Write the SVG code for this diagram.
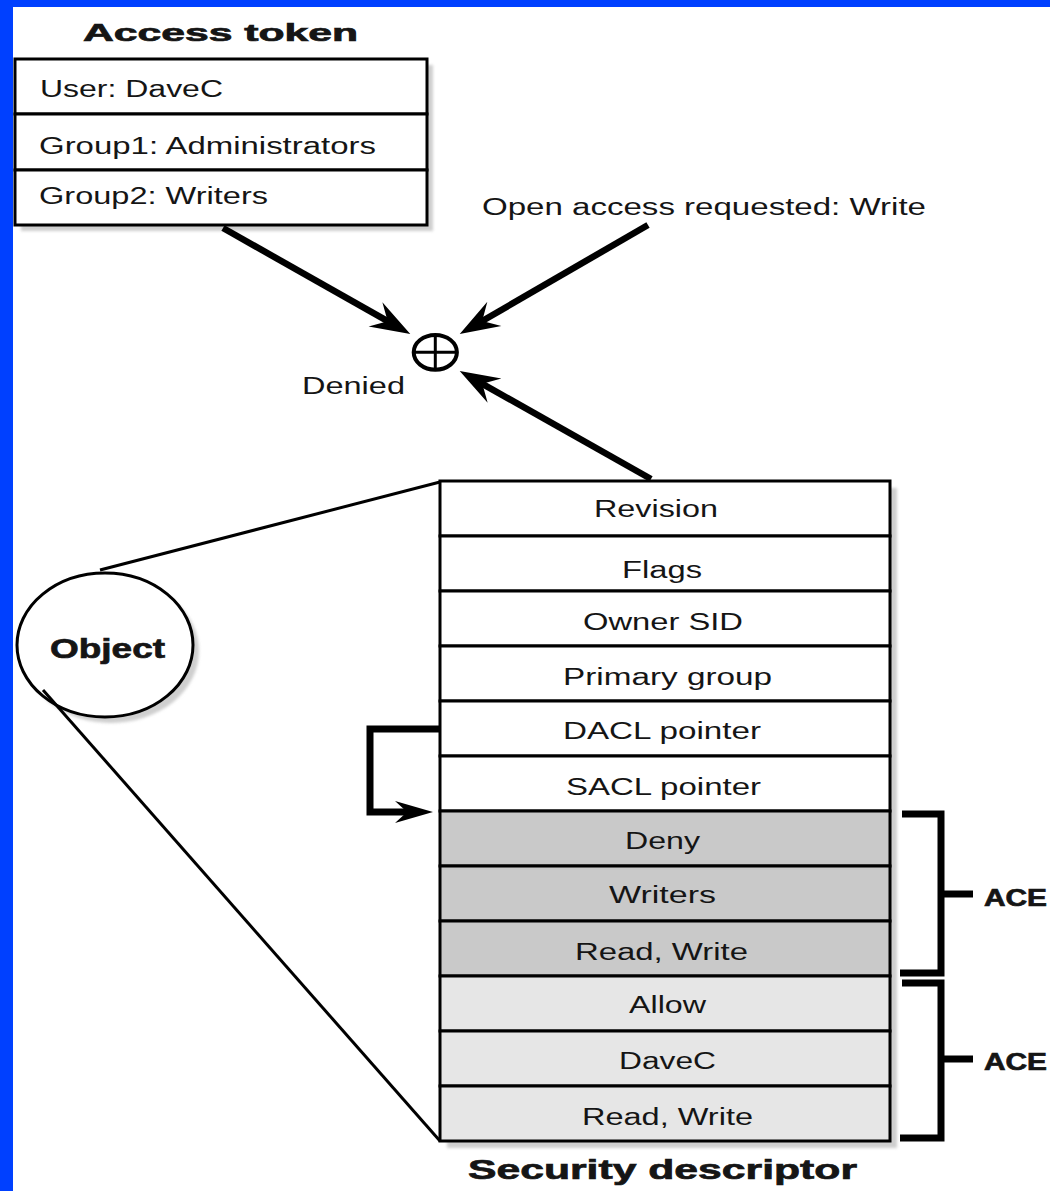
<svg xmlns="http://www.w3.org/2000/svg" width="1050" height="1191" viewBox="0 0 1050 1191">
  <style>
    .txt { font-family: "Liberation Sans", Arial, sans-serif; font-size: 23px; fill: #151515; }
    .head { font-family: "Liberation Sans", Arial, sans-serif; font-weight: 700; fill: #151515; stroke: #151515; stroke-width: 0.7; }
    .cell { stroke: #000; stroke-width: 3; }
    .white { fill: #ffffff; }
    .dark { fill: #c9c9c9; }
    .light { fill: #e6e6e6; }
    .shadow { fill: #cfcfcf; filter: url(#soft); }
    .thin { fill: none; stroke: #000; stroke-width: 3; }
    .thick { fill: none; stroke: #000; stroke-width: 6.5; }
    .bracket { fill: none; stroke: #000; stroke-width: 7; stroke-linejoin: miter; }
  </style>
  <defs>
    <filter id="soft" x="-10%" y="-10%" width="120%" height="120%">
      <feGaussianBlur stdDeviation="1.5"/>
    </filter>
    <marker id="barb" markerUnits="userSpaceOnUse" viewBox="-42 -17 44 34" markerWidth="44" markerHeight="34" refX="-24" refY="0" orient="auto">
      <path d="M0,0 L-40,-14 L-26,0 L-40,14 Z" fill="#000"/>
    </marker>
    <marker id="barbSmall" markerUnits="userSpaceOnUse" viewBox="-40 -14 42 28" markerWidth="42" markerHeight="28" refX="-24" refY="0" orient="auto">
      <path d="M0,0 L-38,-11 L-26,0 L-38,11 Z" fill="#000"/>
    </marker>
  </defs>

  <!-- page -->
  <rect x="0" y="0" width="1050" height="1191" fill="#ffffff"/>
  <rect x="0" y="0" width="1050" height="7" fill="#0040ff"/>
  <rect x="0" y="0" width="13" height="1191" fill="#0040ff"/>

  <!-- access token -->
  <g id="access-token">
    <text class="head" x="83" y="41" font-size="24" textLength="275" lengthAdjust="spacingAndGlyphs">Access token</text>
    <rect class="shadow" x="21" y="65" width="412" height="166"/>
    <rect class="cell white" x="15" y="59" width="412" height="55"/>
    <rect class="cell white" x="15" y="114" width="412" height="56"/>
    <rect class="cell white" x="15" y="170" width="412" height="55"/>
    <text class="txt" x="40" y="97" textLength="183" lengthAdjust="spacingAndGlyphs">User: DaveC</text>
    <text class="txt" x="39" y="154" textLength="337" lengthAdjust="spacingAndGlyphs">Group1: Administrators</text>
    <text class="txt" x="39" y="204" textLength="229" lengthAdjust="spacingAndGlyphs">Group2: Writers</text>
  </g>

  <!-- access request label -->
  <g id="request">
    <text class="txt" x="482" y="215" textLength="444" lengthAdjust="spacingAndGlyphs">Open access requested: Write</text>
  </g>

  <!-- access check result -->
  <g id="check">
    <ellipse cx="435.3" cy="352.3" rx="21.6" ry="17.4" fill="#fff" stroke="#000" stroke-width="4"/>
    <line x1="435.3" y1="335" x2="435.3" y2="370" stroke="#000" stroke-width="3"/>
    <line x1="414" y1="352.3" x2="457" y2="352.3" stroke="#000" stroke-width="3"/>
    <text class="txt" x="302" y="394" textLength="103" lengthAdjust="spacingAndGlyphs">Denied</text>
  </g>

  <!-- object -->
  <g id="object">
    <ellipse class="shadow" cx="111" cy="651" rx="88" ry="72"/>
    <ellipse cx="105" cy="645" rx="88" ry="72" fill="#fff" stroke="#000" stroke-width="3"/>
    <text class="head" x="50" y="658" font-size="28" textLength="115" lengthAdjust="spacingAndGlyphs">Object</text>
  </g>

  <!-- security descriptor -->
  <g id="security-descriptor">
    <rect class="shadow" x="447" y="488" width="450" height="660"/>
    <rect class="cell white" x="440" y="481" width="450" height="55"/>
    <rect class="cell white" x="440" y="536" width="450" height="55"/>
    <rect class="cell white" x="440" y="591" width="450" height="55"/>
    <rect class="cell white" x="440" y="646" width="450" height="55"/>
    <rect class="cell white" x="440" y="701" width="450" height="55"/>
    <rect class="cell white" x="440" y="756" width="450" height="55"/>
    <rect class="cell dark" x="440" y="811" width="450" height="55"/>
    <rect class="cell dark" x="440" y="866" width="450" height="55"/>
    <rect class="cell dark" x="440" y="921" width="450" height="55"/>
    <rect class="cell light" x="440" y="976" width="450" height="55"/>
    <rect class="cell light" x="440" y="1031" width="450" height="55"/>
    <rect class="cell light" x="440" y="1086" width="450" height="55"/>
    <text class="txt" x="594" y="517" textLength="124" lengthAdjust="spacingAndGlyphs">Revision</text>
    <text class="txt" x="622" y="578" textLength="80" lengthAdjust="spacingAndGlyphs">Flags</text>
    <text class="txt" x="583" y="630" textLength="160" lengthAdjust="spacingAndGlyphs">Owner SID</text>
    <text class="txt" x="563" y="685" textLength="209" lengthAdjust="spacingAndGlyphs">Primary group</text>
    <text class="txt" x="563" y="739" textLength="198" lengthAdjust="spacingAndGlyphs">DACL pointer</text>
    <text class="txt" x="566" y="795" textLength="195" lengthAdjust="spacingAndGlyphs">SACL pointer</text>
    <text class="txt" x="625" y="849" textLength="75" lengthAdjust="spacingAndGlyphs">Deny</text>
    <text class="txt" x="609" y="903" textLength="107" lengthAdjust="spacingAndGlyphs">Writers</text>
    <text class="txt" x="575" y="960" textLength="173" lengthAdjust="spacingAndGlyphs">Read, Write</text>
    <text class="txt" x="629" y="1013" textLength="77" lengthAdjust="spacingAndGlyphs">Allow</text>
    <text class="txt" x="619" y="1069" textLength="97" lengthAdjust="spacingAndGlyphs">DaveC</text>
    <text class="txt" x="582" y="1125" textLength="171" lengthAdjust="spacingAndGlyphs">Read, Write</text>
    <text class="head" x="468" y="1179" font-size="28" textLength="389" lengthAdjust="spacingAndGlyphs">Security descriptor</text>
  </g>

  <!-- ACE groupings -->
  <g id="ace-deny">
    <path class="bracket" d="M902,814 H941 V973 H900"/>
    <path class="bracket" d="M941,894 H973"/>
    <text class="head" x="984" y="906" font-size="23" textLength="63" lengthAdjust="spacingAndGlyphs">ACE</text>
  </g>
  <g id="ace-allow">
    <path class="bracket" d="M902,983 H941 V1138 H900"/>
    <path class="bracket" d="M941,1059 H973"/>
    <text class="head" x="984" y="1070" font-size="23" textLength="63" lengthAdjust="spacingAndGlyphs">ACE</text>
  </g>

  <!-- connectors -->
  <g id="connectors">
    <line class="thin" x1="100" y1="570" x2="440" y2="482"/>
    <line class="thin" x1="43" y1="690" x2="440" y2="1141"/>
    <path class="thick" d="M223,228 L389.4,322.2" marker-end="url(#barb)"/>
    <path class="thick" d="M648,225 L480.5,322" marker-end="url(#barb)"/>
    <path class="thick" d="M651,479 L480.6,382.8" marker-end="url(#barb)"/>
    <path class="bracket" d="M440,729 H370 V812 H409" marker-end="url(#barbSmall)"/>
  </g>
</svg>
